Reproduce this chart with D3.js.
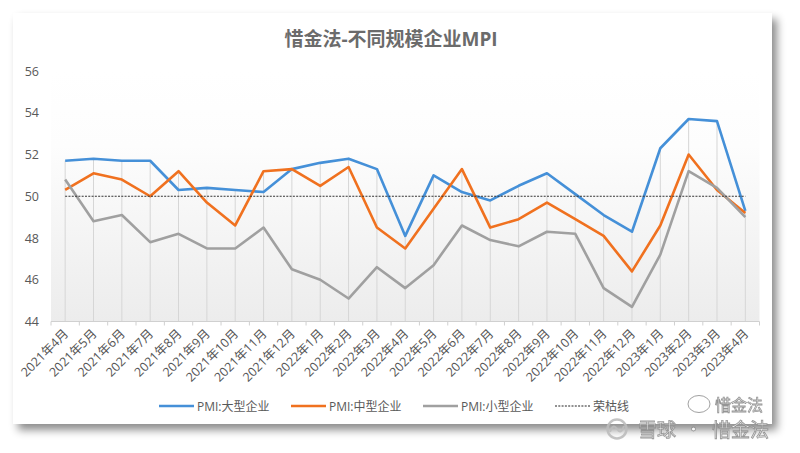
<!DOCTYPE html>
<html>
<head>
<meta charset="utf-8">
<script src="https://cdn.jsdelivr.net/npm/d3@7"></script>
<style>
  body { margin: 0; background: #fff; }
  text { font-family: "Open Sans", "Noto Sans CJK SC", sans-serif; }
</style>
</head>
<body>
<div id="chart"></div>
<script>
var months = ["2021年4月","2021年5月","2021年6月","2021年7月","2021年8月","2021年9月","2021年10月","2021年11月","2021年12月",
  "2022年1月","2022年2月","2022年3月","2022年4月","2022年5月","2022年6月","2022年7月","2022年8月","2022年9月","2022年10月","2022年11月","2022年12月",
  "2023年1月","2023年2月","2023年3月","2023年4月"];
var large  = [51.7,51.8,51.7,51.7,50.3,50.4,50.3,50.2,51.3,51.6,51.8,51.3,48.1,51.0,50.2,49.8,50.5,51.1,50.1,49.1,48.3,52.3,53.7,53.6,49.3];
var medium = [50.3,51.1,50.8,50.0,51.2,49.7,48.6,51.2,51.3,50.5,51.4,48.5,47.5,49.4,51.3,48.5,48.9,49.7,48.9,48.1,46.4,48.6,52.0,50.3,49.2];
var small  = [50.8,48.8,49.1,47.8,48.2,47.5,47.5,48.5,46.5,46.0,45.1,46.6,45.6,46.7,48.6,47.9,47.6,48.3,48.2,45.6,44.7,47.2,51.2,50.4,49.0];
var boomBust = 50;
var yTicks = [44,46,48,50,52,54,56];
var seriesNames = ["PMI:大型企业","PMI:中型企业","PMI:小型企业","荣枯线"];
var colors = ["#4590d8","#f0711f","#a0a0a0","#222"];

var W = 800, H = 453;
var svg = d3.select("#chart").append("svg").attr("width", W).attr("height", H);
var defs = svg.append("defs");

var f = defs.append("filter").attr("id","shadow").attr("x","-5%").attr("y","-5%").attr("width","115%").attr("height","120%");
f.append("feDropShadow").attr("dx",5).attr("dy",6).attr("stdDeviation",4).attr("flood-color","#000").attr("flood-opacity",0.45);

var g = defs.append("linearGradient").attr("id","plotbg").attr("x1",0).attr("y1",0).attr("x2",0).attr("y2",1);
g.append("stop").attr("offset","0").attr("stop-color","#fff");
g.append("stop").attr("offset","0.3").attr("stop-color","#fdfdfd");
g.append("stop").attr("offset","1").attr("stop-color","#ececec");

// card
svg.append("rect").attr("x",13).attr("y",13).attr("width",759).attr("height",411)
  .attr("fill","#fff").attr("filter","url(#shadow)");

var pLeft = 51, pRight = 759.5, pTop = 71, pBottom = 321.5;
var x = d3.scaleBand().domain(months).range([pLeft, pRight]);
var y = d3.scaleLinear().domain([44,56]).range([pBottom, pTop]);
var cx = function(i) { return x(months[i]) + x.bandwidth()/2; };

svg.append("rect").attr("x",pLeft).attr("y",pTop).attr("width",pRight-pLeft).attr("height",pBottom-pTop)
  .attr("fill","url(#plotbg)");

// title
svg.append("text").attr("x",391).attr("y",46).attr("text-anchor","middle")
  .attr("font-size",19).attr("font-weight","bold").attr("fill","#6b6b6b")
  .text("惜金法-不同规模企业MPI");

// drop lines
svg.append("g").selectAll("line").data(months).enter().append("line")
  .attr("x1", function(d,i){ return cx(i); }).attr("x2", function(d,i){ return cx(i); })
  .attr("y1", function(d,i){ return y(Math.max(large[i],medium[i],small[i])); })
  .attr("y2", y(44))
  .attr("stroke","#d6d6d6").attr("stroke-width",1);

// y axis
var yAxis = svg.append("g").attr("transform","translate(" + pLeft + ",0)")
  .call(d3.axisLeft(y).tickValues(yTicks).tickSize(0).tickPadding(12));
yAxis.select(".domain").remove();
yAxis.selectAll("text").attr("font-size",12.5).attr("fill","#595959")
  .style("font-family","'Open Sans', sans-serif");

// x axis line and ticks at band edges
svg.append("line").attr("x1",pLeft).attr("x2",pRight).attr("y1",pBottom).attr("y2",pBottom)
  .attr("stroke","#d0d0d0");
svg.append("g").selectAll("line").data(months.concat(["end"])).enter().append("line")
  .attr("x1", function(d,i){ return i < months.length ? x(d) : pRight; })
  .attr("x2", function(d,i){ return i < months.length ? x(d) : pRight; })
  .attr("y1", pBottom).attr("y2", pBottom + 4)
  .attr("stroke","#d0d0d0");

svg.append("g").selectAll("text").data(months).enter().append("text")
  .attr("transform", function(d,i){ return "translate(" + (cx(i)+4) + "," + (pBottom + 13) + ") rotate(-45)"; })
  .attr("text-anchor","end").attr("font-size",12.5).attr("fill","#555")
  .text(function(d){ return d; });

// lines
var line = d3.line().x(function(d,i){ return cx(i); }).y(function(d){ return y(d); });
[large, medium, small].forEach(function(s, k) {
  svg.append("path").datum(s).attr("d", line).attr("fill","none")
    .attr("stroke", colors[k]).attr("stroke-width",2.6).attr("stroke-linejoin","round");
});
svg.append("path").datum(months.map(function(){ return boomBust; })).attr("d", line)
  .attr("fill","none").attr("stroke","#333").attr("stroke-width",1.1).attr("stroke-dasharray","2,1.3");

// legend
var legX = [159, 291, 423, 555];
var leg = svg.append("g").selectAll("g").data(seriesNames).enter().append("g")
  .attr("transform", function(d,i){ return "translate(" + legX[i] + ",406)"; });
leg.append("line").attr("x1",0).attr("x2",35).attr("y1",0).attr("y2",0)
  .attr("stroke", function(d,i){ return colors[i]; })
  .attr("stroke-width", function(d,i){ return i < 3 ? 2.6 : 1; })
  .attr("stroke-dasharray", function(d,i){ return i < 3 ? null : "2,1.3"; });
leg.append("text").attr("x",38).attr("y",4.5).attr("font-size",12).attr("fill","#595959")
  .text(function(d){ return d; });

// watermark
var wm = svg.append("g").attr("opacity",0.9);
wm.append("ellipse").attr("cx",699).attr("cy",404).attr("rx",11).attr("ry",8.5)
  .attr("fill","#fff").attr("stroke","#8a8a8a").attr("stroke-width",0.9);
wm.append("text").attr("x",715).attr("y",411).attr("font-size",16)
  .attr("fill","#fff").attr("stroke","#8a8a8a").attr("stroke-width",0.8)
  .style("font-family","'Noto Sans CJK SC'").text("惜金法");
wm.append("circle").attr("cx",617).attr("cy",429).attr("r",9.5)
  .attr("fill","none").attr("stroke","#bdbdbd").attr("stroke-width",2.5);
wm.append("path").attr("d","M610,432 Q613,423 617,429 Q621,435 624,426")
  .attr("fill","none").attr("stroke","#bdbdbd").attr("stroke-width",2);
wm.append("text").attr("x",638).attr("y",437).attr("font-size",19)
  .attr("fill","#fff").attr("stroke","#8f8f8f").attr("stroke-width",0.9)
  .style("font-family","'Noto Sans CJK SC'").text("雪球");
wm.append("text").attr("x",684).attr("y",437).attr("font-size",19)
  .attr("fill","#fff").attr("stroke","#8f8f8f").attr("stroke-width",0.9)
  .style("font-family","'Noto Sans CJK SC'").text("·");
wm.append("text").attr("x",712).attr("y",437).attr("font-size",19)
  .attr("fill","#fff").attr("stroke","#8f8f8f").attr("stroke-width",0.9)
  .style("font-family","'Noto Sans CJK SC'").text("惜金法");
</script>
</body>
</html>
